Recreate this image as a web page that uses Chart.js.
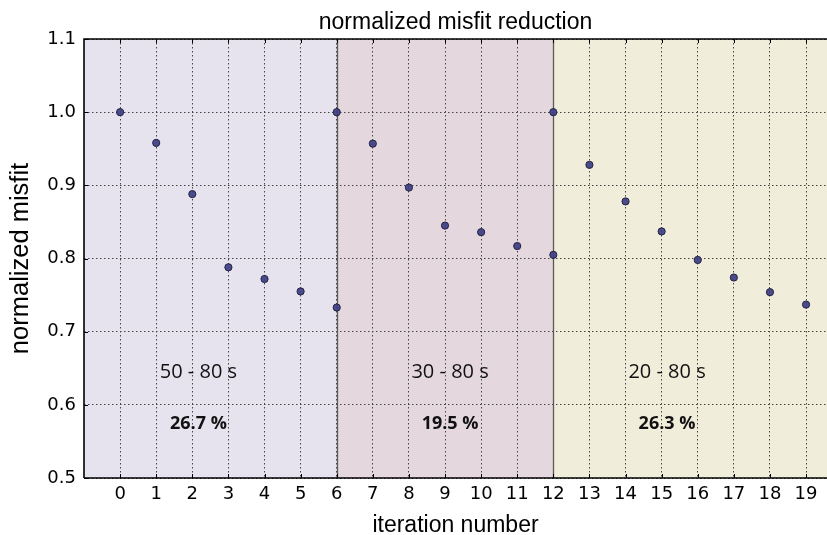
<!DOCTYPE html>
<html>
<head>
<meta charset="utf-8">
<script src="https://cdn.jsdelivr.net/npm/chart.js@4.4.1/dist/chart.umd.min.js"></script>
<style>
  html, body { margin: 0; padding: 0; background: #fff; }
  #wrap { width: 827px; height: 535px; }
</style>
</head>
<body>
<div id="wrap"><canvas id="c" width="827" height="535"></canvas></div>
<script>
// ---- data ----
const iterations = [0, 1, 2, 3, 4, 5, 6, 6, 7, 8, 9, 10, 11, 12, 12, 13, 14, 15, 16, 17, 18, 19];
const misfit = [1.0, 0.958, 0.888, 0.788, 0.772, 0.755, 0.733,
                1.0, 0.957, 0.897, 0.845, 0.836, 0.817, 0.805,
                1.0, 0.928, 0.878, 0.837, 0.798, 0.774, 0.754, 0.737];
const xTicks = [0,1,2,3,4,5,6,7,8,9,10,11,12,13,14,15,16,17,18,19];
const yTicks = [0.5, 0.6, 0.7, 0.8, 0.9, 1.0, 1.1];
const bandStart = [-1, 6, 12];
const bandEnd = [6, 12, 19.58];
const bandLabels = ['50 - 80 s', '30 - 80 s', '20 - 80 s'];
const bandReductions = ['26.7 %', '19.5 %', '26.3 %'];

// ---- styles / placement ----
const bandColors = ['#e6e3ef', '#e4d7dd', '#f1eddb'];
const labelX = [2.17, 9.14, 15.15];
const labelY = 0.645;
const reductionY = 0.574;

const points = iterations.map((x, i) => ({ x: x, y: misfit[i] }));

const decor = {
  id: 'decor',
  beforeDraw(chart) {
    const { ctx, chartArea: a, scales: { x } } = chart;
    ctx.save();
    for (let i = 0; i < bandStart.length; i++) {
      const x0 = Math.max(a.left, x.getPixelForValue(bandStart[i]));
      const x1 = Math.min(a.right, x.getPixelForValue(bandEnd[i]));
      ctx.fillStyle = bandColors[i];
      ctx.fillRect(x0, a.top, x1 - x0, a.bottom - a.top);
    }
    ctx.restore();
  },
  beforeDatasetsDraw(chart) {
    const { ctx, chartArea: a, scales: { x, y } } = chart;
    ctx.save();
    // band separators
    ctx.strokeStyle = '#5a5a5a';
    ctx.lineWidth = 1.3;
    for (let i = 1; i < bandStart.length; i++) {
      const px = Math.round(x.getPixelForValue(bandStart[i])) + 0.5;
      ctx.beginPath(); ctx.moveTo(px, a.top); ctx.lineTo(px, a.bottom); ctx.stroke();
    }
    // inward tick marks
    ctx.strokeStyle = '#000';
    ctx.lineWidth = 1;
    ctx.beginPath();
    xTicks.forEach(v => {
      const px = Math.round(x.getPixelForValue(v)) + 0.5;
      ctx.moveTo(px, a.top); ctx.lineTo(px, a.top + 4);
      ctx.moveTo(px, a.bottom); ctx.lineTo(px, a.bottom - 4);
    });
    yTicks.forEach(v => {
      const py = Math.round(y.getPixelForValue(v)) + 0.5;
      ctx.moveTo(a.left, py); ctx.lineTo(a.left + 4, py);
    });
    ctx.stroke();
    // frame (left, top, bottom)
    ctx.strokeStyle = '#000';
    ctx.lineWidth = 1.6;
    ctx.beginPath();
    ctx.moveTo(a.left, a.bottom); ctx.lineTo(a.left, a.top); ctx.lineTo(a.right + 2, a.top);
    ctx.moveTo(a.left, a.bottom); ctx.lineTo(a.right + 2, a.bottom);
    ctx.stroke();
    // annotations
    ctx.fillStyle = '#111';
    ctx.textAlign = 'center';
    ctx.textBaseline = 'middle';
    for (let i = 0; i < bandLabels.length; i++) {
      ctx.font = '20px "Open Sans"';
      ctx.fillText(bandLabels[i], x.getPixelForValue(labelX[i]), y.getPixelForValue(labelY));
      ctx.font = 'bold 18px "Open Sans"';
      ctx.fillText(bandReductions[i], x.getPixelForValue(labelX[i]), y.getPixelForValue(reductionY));
    }
    ctx.restore();
  }
};

new Chart(document.getElementById('c'), {
  type: 'scatter',
  data: {
    datasets: [{
      data: points,
      backgroundColor: 'rgba(62,62,135,0.92)',
      borderColor: '#23233f',
      borderWidth: 1,
      pointRadius: 3.6,
      pointHoverRadius: 3.6
    }]
  },
  options: {
    responsive: false,
    devicePixelRatio: 1,
    animation: false,
    layout: { padding: 0, autoPadding: false },
    plugins: {
      legend: { display: false },
      tooltip: { enabled: false },
      title: {
        display: true,
        fullSize: false,
        text: 'normalized misfit reduction',
        color: '#000',
        font: { family: '"Liberation Sans", Arial, sans-serif', size: 23, weight: 'normal', lineHeight: 1.2 },
        padding: { top: 9, bottom: 2.4 }
      }
    },
    scales: {
      x: {
        type: 'linear',
        min: -1,
        max: 19.58,
        afterBuildTicks(scale) { scale.ticks = xTicks.map(v => ({ value: v })); },
        afterFit(scale) { scale.height = 57; scale.paddingRight = 0; scale.paddingLeft = 0; },
        border: { display: false, dash: [1.5, 2.5] },
        grid: { color: '#444', lineWidth: 1, drawTicks: false },
        ticks: {
          color: '#000',
          padding: 6,
          maxRotation: 0,
          autoSkip: false,
          font: { family: '"DejaVu Sans"', size: 18 }
        },
        title: {
          display: true,
          text: 'iteration number',
          color: '#000',
          font: { family: '"Liberation Sans", Arial, sans-serif', size: 23, lineHeight: 0.8 },
          padding: { top: 0, bottom: 0 }
        }
      },
      y: {
        min: 0.5,
        max: 1.1,
        afterBuildTicks(scale) { scale.ticks = yTicks.map(v => ({ value: v })); },
        afterFit(scale) { scale.width = 84; },
        border: { display: false, dash: [1.5, 2.5] },
        grid: { color: '#444', lineWidth: 1, drawTicks: false },
        ticks: {
          color: '#000',
          padding: 8,
          font: { family: '"DejaVu Sans"', size: 18 },
          callback: (v) => Number(v).toFixed(1)
        },
        title: {
          display: true,
          text: 'normalized misfit',
          color: '#000',
          font: { family: '"Liberation Sans", Arial, sans-serif', size: 25.5, lineHeight: 1.2 },
          padding: { top: 6, bottom: 0 }
        }
      }
    }
  },
  plugins: [decor]
});
</script>
</body>
</html>
